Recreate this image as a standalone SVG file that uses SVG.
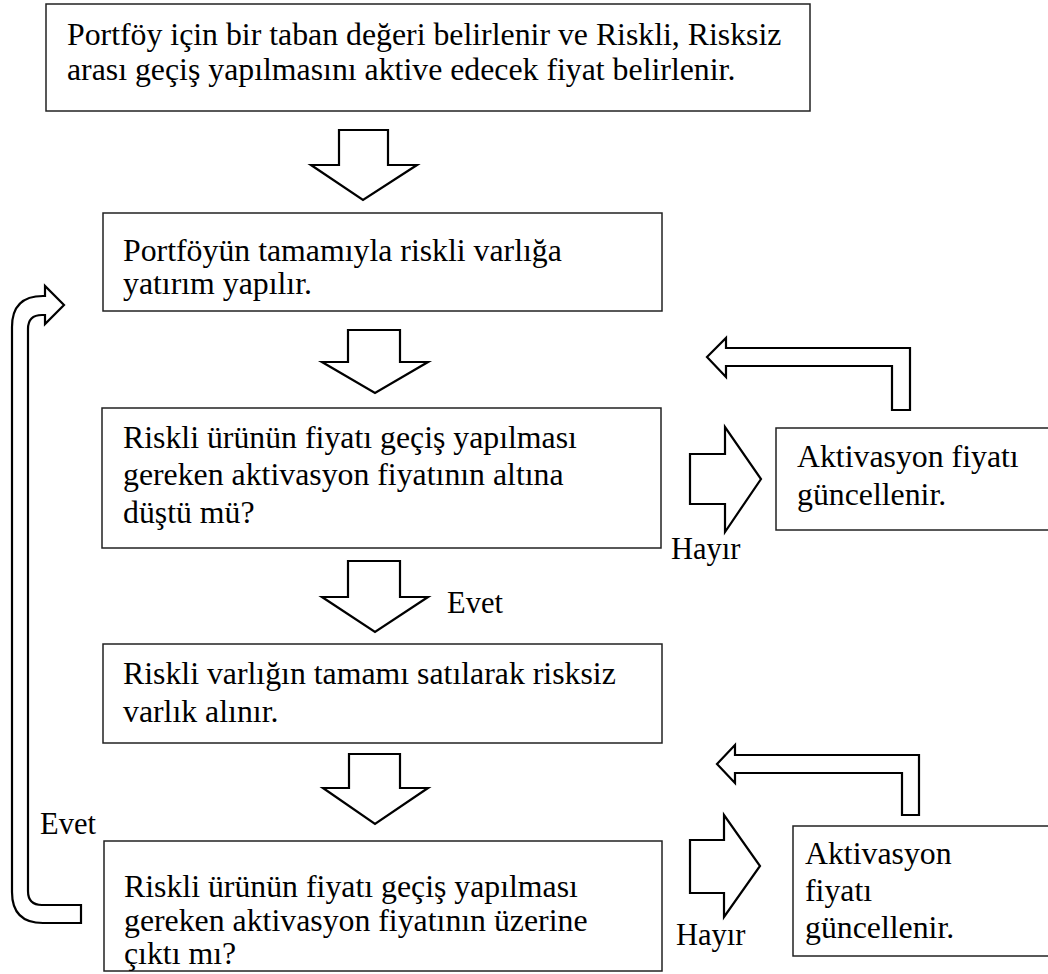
<svg xmlns="http://www.w3.org/2000/svg" width="1048" height="974" viewBox="0 0 1048 974">
  <style>
    .box { fill: #ffffff; stroke: #222222; stroke-width: 1.5; }
    .arrow { fill: #ffffff; stroke: #000000; stroke-width: 2.2; stroke-linejoin: miter; }
    .t { font-family: 'Liberation Serif', 'Times New Roman', serif; font-size: 31.8px; fill: #000000; }
    .lbl { font-family: 'Liberation Serif', 'Times New Roman', serif; font-size: 30.5px; fill: #000000; }
  </style>
  <rect width="1048" height="974" fill="#ffffff"/>

  <g id="connectors">
    <path class="arrow" d="M339,130 H388 V165 H417 L363,200 L311,165 H339 Z"/>
    <path class="arrow" d="M348,330 H400 V362 H428 L375,393 L322,362 H348 Z"/>
    <path class="arrow" d="M348,561 H400 V597 H428 L375,632 L322,597 H348 Z"/>
    <path class="arrow" d="M349,754 H400 V788 H428 L375,824 L323,788 H349 Z"/>
    <path class="arrow" d="M690,454 H725 V427 L761,479 L725,532 V504 H690 Z"/>
    <path class="arrow" d="M690,840 H724 V815 L760,866 L724,917 V893 H690 Z"/>
    <path class="arrow" d="M707,357 L726,338 V348 H910 V410 H892 V366 H726 V377 Z"/>
    <path class="arrow" d="M717,764 L735,745 V755 H919 V815 H902 V773 H735 V783 Z"/>
    <path class="arrow" d="M81,905 H42 Q28,905 28,891 V329 Q28,315 42,315 H45 V324 L64,305 L45,286 V296 H43 Q12,296 12,327 V892 Q12,923 43,923 H81 Z"/>
  </g>

  <g id="node-start">
    <rect class="box" x="46" y="4" width="764" height="107"/>
    <text class="t" x="67" y="45">Portföy için bir taban değeri belirlenir ve Riskli, Risksiz</text>
    <text class="t" x="67" y="80">arası geçiş yapılmasını aktive edecek fiyat belirlenir.</text>
  </g>

  <g id="node-invest">
    <rect class="box" x="103" y="213" width="559" height="98"/>
    <text class="t" x="123" y="261">Portföyün tamamıyla riskli varlığa</text>
    <text class="t" x="123" y="294">yatırım yapılır.</text>
  </g>

  <g id="node-check-down">
    <rect class="box" x="102" y="408" width="559" height="140"/>
    <text class="t" x="123" y="448">Riskli ürünün fiyatı geçiş yapılması</text>
    <text class="t" x="123" y="485">gereken aktivasyon fiyatının altına</text>
    <text class="t" x="123" y="523">düştü mü?</text>
  </g>

  <g id="node-sell">
    <rect class="box" x="103" y="644" width="559" height="99"/>
    <text class="t" x="123" y="684">Riskli varlığın tamamı satılarak risksiz</text>
    <text class="t" x="123" y="722">varlık alınır.</text>
  </g>

  <g id="node-check-up">
    <rect class="box" x="104" y="841" width="558" height="130"/>
    <text class="t" x="124" y="897">Riskli ürünün fiyatı geçiş yapılması</text>
    <text class="t" x="124" y="931">gereken aktivasyon fiyatının üzerine</text>
    <text class="t" x="124" y="964">çıktı mı?</text>
  </g>

  <g id="node-update-1">
    <rect class="box" x="776" y="428" width="290" height="102"/>
    <text class="t" x="797" y="467">Aktivasyon fiyatı</text>
    <text class="t" x="797" y="505">güncellenir.</text>
  </g>

  <g id="node-update-2">
    <rect class="box" x="793" y="826" width="290" height="130"/>
    <text class="t" x="805" y="864">Aktivasyon</text>
    <text class="t" x="805" y="901">fiyatı</text>
    <text class="t" x="805" y="938">güncellenir.</text>
  </g>

  <g id="labels">
    <text class="lbl" x="447" y="613">Evet</text>
    <text class="lbl" x="671" y="559">Hayır</text>
    <text class="lbl" x="40" y="834">Evet</text>
    <text class="lbl" x="676" y="945">Hayır</text>
  </g>
</svg>
